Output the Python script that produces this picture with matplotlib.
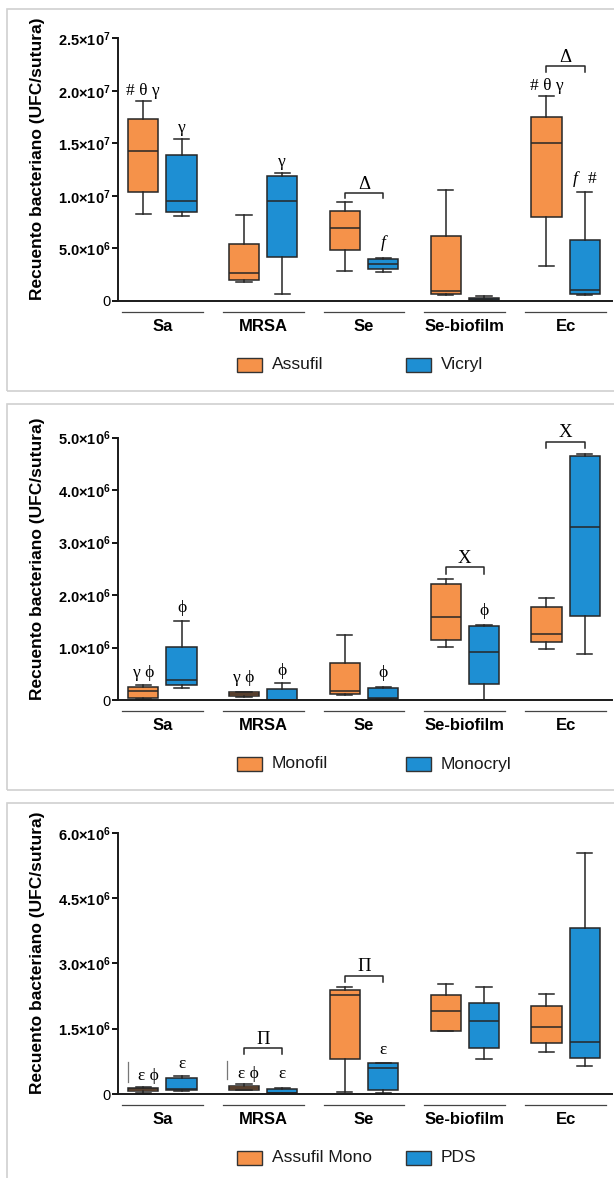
import matplotlib
matplotlib.use('Agg')
import matplotlib.pyplot as plt
from matplotlib.patches import Rectangle
from matplotlib.transforms import offset_copy

plt.rcParams['font.family'] = ['Liberation Sans', 'DejaVu Sans']
plt.rcParams['mathtext.fontset'] = 'custom'
plt.rcParams['mathtext.rm'] = 'Liberation Sans'
plt.rcParams['mathtext.bf'] = 'Liberation Sans:bold'
plt.rcParams['mathtext.it'] = 'Liberation Sans:italic'

groups = ['Sa', 'MRSA', 'Se', 'Se-biofilm', 'Ec']

# each row: [whisker low, Q1, median, Q3, whisker high]
assufil = [[0.826e7, 1.035e7, 1.429e7, 1.733e7, 1.899e7],
           [0.181e7, 0.197e7, 0.261e7, 0.537e7, 0.819e7],
           [0.286e7, 0.483e7, 0.692e7, 0.857e7, 0.937e7],
           [0.051e7, 0.064e7, 0.095e7, 0.616e7, 1.054e7],
           [0.333e7, 0.800e7, 1.505e7, 1.752e7, 1.947e7]]
vicryl = [[0.807e7, 0.845e7, 0.950e7, 1.385e7, 1.537e7],
          [0.064e7, 0.419e7, 0.950e7, 1.190e7, 1.216e7],
          [0.273e7, 0.299e7, 0.347e7, 0.394e7, 0.407e7],
          [0.005e7, 0.010e7, 0.020e7, 0.029e7, 0.045e7],
          [0.054e7, 0.064e7, 0.102e7, 0.578e7, 1.035e7]]

monofil = [[0.025e6, 0.045e6, 0.180e6, 0.240e6, 0.280e6],
           [0.060e6, 0.076e6, 0.114e6, 0.146e6, 0.160e6],
           [0.095e6, 0.108e6, 0.171e6, 0.711e6, 1.245e6],
           [1.010e6, 1.143e6, 1.580e6, 2.210e6, 2.311e6],
           [0.965e6, 1.111e6, 1.263e6, 1.778e6, 1.937e6]]
monocryl = [[0.235e6, 0.290e6, 0.380e6, 1.010e6, 1.510e6],
            [0.000e6, 0.000e6, 0.005e6, 0.203e6, 0.317e6],
            [0.010e6, 0.015e6, 0.030e6, 0.222e6, 0.254e6],
            [0.000e6, 0.298e6, 0.921e6, 1.403e6, 1.430e6],
            [0.883e6, 1.594e6, 3.295e6, 4.660e6, 4.690e6]]

assufil_mono = [[0.030e6, 0.069e6, 0.110e6, 0.145e6, 0.160e6],
                [0.090e6, 0.100e6, 0.145e6, 0.190e6, 0.220e6],
                [0.050e6, 0.800e6, 2.270e6, 2.380e6, 2.460e6],
                [1.440e6, 1.454e6, 1.913e6, 2.273e6, 2.526e6],
                [0.972e6, 1.178e6, 1.538e6, 2.013e6, 2.289e6]]
pds = [[0.080e6, 0.092e6, 0.120e6, 0.375e6, 0.413e6],
       [0.010e6, 0.015e6, 0.030e6, 0.108e6, 0.145e6],
       [0.015e6, 0.090e6, 0.590e6, 0.705e6, 0.720e6],
       [0.811e6, 1.049e6, 1.676e6, 2.097e6, 2.464e6],
       [0.643e6, 0.819e6, 1.202e6, 3.820e6, 5.527e6]]

yticks_1 = [0, 5e6, 1e7, 1.5e7, 2e7, 2.5e7]
ylabels_1 = ['0', r'$\mathbf{5.0{\times}10^{6}}$', r'$\mathbf{1.0{\times}10^{7}}$',
             r'$\mathbf{1.5{\times}10^{7}}$', r'$\mathbf{2.0{\times}10^{7}}$',
             r'$\mathbf{2.5{\times}10^{7}}$']
yticks_2 = [0, 1e6, 2e6, 3e6, 4e6, 5e6]
ylabels_2 = ['0', r'$\mathbf{1.0{\times}10^{6}}$', r'$\mathbf{2.0{\times}10^{6}}$',
             r'$\mathbf{3.0{\times}10^{6}}$', r'$\mathbf{4.0{\times}10^{6}}$',
             r'$\mathbf{5.0{\times}10^{6}}$']
yticks_3 = [0, 1.5e6, 3e6, 4.5e6, 6e6]
ylabels_3 = ['0', r'$\mathbf{1.5{\times}10^{6}}$', r'$\mathbf{3.0{\times}10^{6}}$',
             r'$\mathbf{4.5{\times}10^{6}}$', r'$\mathbf{6.0{\times}10^{6}}$']

# significance marks: (x, y, text, italic)
notes_1 = [(-0.19, 2.00e7, '# θ γ', False), (0.19, 1.65e7, 'γ', False),
           (1.19, 1.32e7, 'γ', False), (2.19, 0.55e7, 'f', True),
           (3.81, 2.05e7, '# θ γ', False), (4.10, 1.16e7, 'f', True),
           (4.26, 1.16e7, '#', False)]
notes_2 = [(-0.19, 0.51e6, 'γ ϕ', False), (0.19, 1.75e6, 'ϕ', False),
           (0.81, 0.42e6, 'γ ϕ', False), (1.19, 0.55e6, 'ϕ', False),
           (2.19, 0.51e6, 'ϕ', False), (3.19, 1.695e6, 'ϕ', False)]
notes_3 = [(-0.134, 0.41e6, 'ε ϕ', False), (0.19, 0.70e6, 'ε', False),
           (0.856, 0.46e6, 'ε ϕ', False), (1.19, 0.45e6, 'ε', False),
           (2.19, 1.01e6, 'ε', False)]
# brackets: (group, top, leg end, label, label y)
brackets_1 = [(2, 1.029e7, 0.98e7, 'Δ', 1.11e7), (4, 2.238e7, 2.18e7, 'Δ', 2.32e7)]
brackets_2 = [(3, 2.527e6, 2.41e6, 'X', 2.70e6), (4, 4.92e6, 4.81e6, 'X', 5.09e6)]
brackets_3 = [(1, 1.05e6, 0.92e6, 'Π', 1.24e6), (2, 2.72e6, 2.58e6, 'Π', 2.92e6)]
# thin vertical marks next to the ε ϕ labels: (x, y0, y1)
bars_3 = [(-0.342, 0.28e6, 0.74e6), (0.642, 0.34e6, 0.76e6)]

orange = '#F5924A'
blue = '#1E8FD3'
dark = '#262626'
serif = ['Liberation Serif', 'DejaVu Serif']

W, H = 614, 1178
fig = plt.figure(figsize=(W / 100, H / 100), dpi=100)


def fig_rect(x, y, w, h, **kw):
    fig.add_artist(Rectangle((x / W, 1 - (y + h) / H), w / W, h / H,
                             transform=fig.transFigure, **kw))


def to_stats(rows):
    return [dict(whislo=r[0], q1=r[1], med=r[2], q3=r[3], whishi=r[4], fliers=[])
            for r in rows]


def panel(top_px, bottom_px, left, right, names, yticks, ylabels,
          notes, brackets, bars=()):
    ax = fig.add_axes([118 / W, 1 - bottom_px / H, (612 - 118) / W,
                       (bottom_px - top_px) / H])
    line = dict(color=dark, linewidth=1.1)
    for rows, off, col in [(left, -0.19, orange), (right, 0.19, blue)]:
        ax.bxp(to_stats(rows), positions=[i + off for i in range(len(groups))],
               widths=0.3, capwidths=0.15, patch_artist=True, showfliers=False,
               manage_ticks=False,
               boxprops=dict(facecolor=col, edgecolor=dark, linewidth=1.1),
               medianprops=line, whiskerprops=line, capprops=line)
    ax.set_xlim(-0.44, 4.46)
    ax.set_ylim(0, yticks[-1])
    ax.set_xticks([])
    ax.set_yticks(yticks)
    ax.set_yticklabels(ylabels)
    ax.tick_params(axis='y', direction='out', length=4, width=1.3, pad=1.5,
                   labelsize=10.5)
    for s in ['top', 'right']:
        ax.spines[s].set_visible(False)
    for s in ['left', 'bottom']:
        ax.spines[s].set_linewidth(1.4)
        ax.spines[s].set_color('#1a1a1a')
    ax.patch.set_alpha(0)

    tr_line = offset_copy(ax.get_xaxis_transform(), fig=fig, y=-11, units='dots')
    tr_lab = offset_copy(ax.get_xaxis_transform(), fig=fig, y=-26, units='dots')
    for i, g in enumerate(groups):
        ax.plot([i - 0.4, i + 0.4], [0, 0], transform=tr_line, clip_on=False,
                color='#444444', linewidth=0.9)
        ax.text(i, 0, g, transform=tr_lab, ha='center', va='center',
                fontsize=12, fontweight='bold')

    for x, y, t, it in notes:
        ax.text(x, y, t, ha='center', va='center', fontsize=12.5, family=serif,
                style='italic' if it else 'normal', clip_on=False)
    for g, top, leg, lab, ly in brackets:
        x0, x1 = g - 0.19, g + 0.19
        ax.plot([x0, x0, x1, x1], [leg, top, top, leg], color=dark,
                linewidth=1.1, clip_on=False)
        ax.text(g, ly, lab, ha='center', va='center', fontsize=13.5,
                family=serif, clip_on=False)
    for x, y0, y1 in bars:
        ax.plot([x, x], [y0, y1], color='#777777', linewidth=0.9, clip_on=False)

    ax.text(-0.162, 0.54, 'Recuento bacteriano (UFC/sutura)', transform=ax.transAxes,
            rotation=90, ha='center', va='center', fontsize=12.5, fontweight='bold')

    # legend
    ly = bottom_px + 64
    fig_rect(237, ly - 7, 25, 14, facecolor=orange, edgecolor='#333333', linewidth=1)
    fig.text(272 / W, 1 - ly / H, names[0], ha='left', va='center', fontsize=12.5,
             color='#1a1a1a')
    fig_rect(406, ly - 7, 25, 14, facecolor=blue, edgecolor='#333333', linewidth=1)
    fig.text(441 / W, 1 - ly / H, names[1], ha='left', va='center', fontsize=12.5,
             color='#1a1a1a')
    return ax


# panel frames
border = dict(facecolor='none', edgecolor='#d0d0d0', linewidth=1.2)
fig_rect(7, 9, 700, 382, **border)
fig_rect(7, 404, 700, 386, **border)
fig_rect(7, 803, 700, 500, **border)

panel(38.3, 300.7, assufil, vicryl, ['Assufil', 'Vicryl'], yticks_1, ylabels_1,
      notes_1, brackets_1)
panel(437.7, 700, monofil, monocryl, ['Monofil', 'Monocryl'], yticks_2, ylabels_2,
      notes_2, brackets_2)
panel(832.7, 1094, assufil_mono, pds, ['Assufil Mono', 'PDS'], yticks_3, ylabels_3,
      notes_3, brackets_3, bars_3)

plt.savefig('out.png', dpi=100)
